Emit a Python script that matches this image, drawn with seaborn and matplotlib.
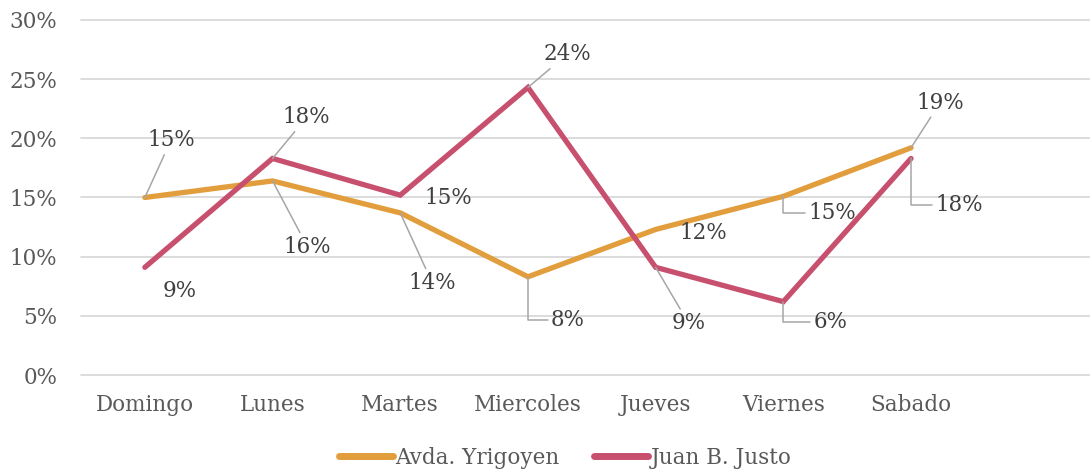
"""
Porcentaje diario por avenida - line chart
"""
#---------------------------------------------
#Import the libraries
import pandas as pd
import numpy as np
import matplotlib
matplotlib.use("Agg")
import matplotlib.pyplot as plt
from matplotlib.ticker import FuncFormatter
import seaborn as sns

#---------------------------------------------
# Data
dias = ["Domingo", "Lunes", "Martes", "Miercoles", "Jueves", "Viernes", "Sabado"]
yrigoyen = [0.150, 0.164, 0.137, 0.083, 0.123, 0.151, 0.192]
justo = [0.091, 0.183, 0.152, 0.243, 0.091, 0.062, 0.183]
series = ["Avda. Yrigoyen", "Juan B. Justo"]

# label offsets in pixels (dx, dy) and whether the leader is an elbow
off_yrigoyen = [(26, 57), (35, -66), (32, -70), (40, -43), (48, -4), (49, -17), (29, 45)]
off_justo = [(35, -24), (34, 41), (48, -3), (39, 33), (33, -56), (47, -20), (48, -47)]
elbow = {("Avda. Yrigoyen", 3), ("Avda. Yrigoyen", 5), ("Juan B. Justo", 5), ("Juan B. Justo", 6)}
no_leader = {("Avda. Yrigoyen", 4), ("Juan B. Justo", 0), ("Juan B. Justo", 2)}

#create the dataframe
df = pd.DataFrame({
    "dia": dias * 2,
    "valor": yrigoyen + justo,
    "serie": [series[0]] * len(dias) + [series[1]] * len(dias),
})

colors = {"Avda. Yrigoyen": "#E29D3C", "Juan B. Justo": "#C8506F"}
font = "DejaVu Serif"
fs = 15.5

#---------------------------------------------------
sns.set_style("white")
plt.rcParams["font.family"] = [font, "DejaVu Sans"]

fig = plt.figure(figsize=(10.9, 4.7), dpi=100)
slot = 127.7
ax = fig.add_axes([81 / 1090, 1 - 375 / 470, 8 * slot / 1090, 355 / 470])

sns.lineplot(data=df, x="dia", y="valor", hue="serie", palette=colors,
             sort=False, linewidth=3.8, ax=ax, legend=False,
             solid_capstyle="round", solid_joinstyle="miter")

ax.set_xlim(-0.5, 7.5)
ax.set_ylim(0, 0.30)
ax.set_yticks(np.arange(0, 0.31, 0.05))
ax.yaxis.set_major_formatter(FuncFormatter(lambda v, p: f"{v * 100:.0f}%"))
ax.set_xticks(range(len(dias)))
ax.set_xticklabels(dias)
ax.grid(axis="y", color="#D9D9D9", linewidth=1.3)
for gl in ax.get_ygridlines():
    gl.set_clip_on(False)
ax.set_axisbelow(True)
for s in ax.spines.values():
    s.set_visible(False)
ax.tick_params(axis="both", length=0, labelsize=fs, labelcolor="#595959")
ax.tick_params(axis="x", pad=14)
ax.tick_params(axis="y", pad=17)
ax.set_xlabel("")
ax.set_ylabel("")

# data labels with grey leader lines
for name, vals, offs in [(series[0], yrigoyen, off_yrigoyen), (series[1], justo, off_justo)]:
    for i, (v, (dx, dy)) in enumerate(zip(vals, offs)):
        key = (name, i)
        props = None
        if key in elbow:
            props = dict(arrowstyle="-", color="#A6A6A6", lw=1.1,
                         connectionstyle="angle,angleA=0,angleB=90,rad=0",
                         relpos=(0, 0.5), shrinkA=0, shrinkB=0)
        elif key not in no_leader:
            props = dict(arrowstyle="-", color="#A6A6A6", lw=1.1,
                         shrinkA=0, shrinkB=0)
        ax.annotate(f"{v * 100:.0f}%", xy=(i, v), xytext=(dx, dy),
                    textcoords="offset pixels", ha="center", va="center",
                    fontsize=fs, color="#404040", arrowprops=props)

# legend at the bottom
handles = [plt.Line2D([], [], color=colors[s], lw=5, solid_capstyle="round") for s in series]
fig.legend(handles, series, loc="center", bbox_to_anchor=(565 / 1090, 1 - 458 / 470),
           ncol=2, frameon=False, fontsize=fs, handlelength=2.5,
           handletextpad=0.12, columnspacing=1.6, labelcolor="#595959")

fig.savefig("out.png", dpi=100)
